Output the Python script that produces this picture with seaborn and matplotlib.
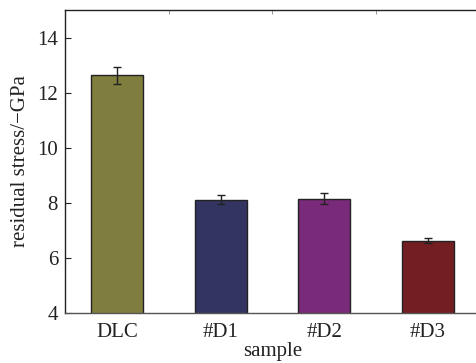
import numpy as np
import pandas as pd
import matplotlib
matplotlib.use("Agg")
import matplotlib.pyplot as plt
import seaborn as sns

# residual stress of the coatings
samples = ["DLC", "#D1", "#D2", "#D3"]
stress = [12.63, 8.11, 8.15, 6.62]
stress_err = [0.30, 0.16, 0.19, 0.09]
bar_colors = ["#7f7e3e", "#333462", "#7a2a7a", "#721e22"]

sns.set_theme(style="ticks")
plt.rcParams["font.family"] = ["Liberation Serif", "DejaVu Serif"]

df = pd.DataFrame({"sample": samples, "stress": stress})

fig = plt.figure(figsize=(4.77, 3.63), dpi=100)
ax = fig.add_axes([65 / 477, 50 / 363, 415 / 477, 303 / 363])

sns.barplot(data=df, x="sample", y="stress", hue="sample", palette=bar_colors,
            saturation=1, width=0.5, edgecolor="#222222", linewidth=1.0,
            legend=False, ax=ax)
ax.errorbar(np.arange(len(samples)), stress, yerr=stress_err, fmt="none",
            ecolor="#222222", elinewidth=1.0, capsize=3, capthick=1.0, zorder=5)

ax.set_ylim(4, 15)
ax.set_xlim(-0.5, 3.5)
ax.set_yticks([4, 6, 8, 10, 12, 14])
ax.set_xticks(np.arange(len(samples)))
ax.set_xticklabels(samples)
ax.set_xticks(np.arange(-0.5, 3.6, 0.5), minor=True)
ax.tick_params(axis="both", which="major", direction="in", length=4, width=0.8,
               labelsize=15, colors="#222222", top=False)
ax.tick_params(axis="x", which="minor", direction="in", length=3, width=0.6,
               top=True, bottom=False, color="#888888")
ax.tick_params(axis="x", which="major", pad=7)
ax.tick_params(axis="y", which="major", pad=5)

ax.set_xlabel("sample", fontsize=15, labelpad=0, color="#222222")
ax.set_ylabel("residual stress/\u2212GPa", fontsize=15, labelpad=5, color="#222222")

for side in ["top", "bottom", "left", "right"]:
    ax.spines[side].set_visible(True)
    ax.spines[side].set_linewidth(1.0)
    ax.spines[side].set_color("#222222")
ax.spines["bottom"].set_color("#555555")

fig.savefig("out.png", dpi=100)
